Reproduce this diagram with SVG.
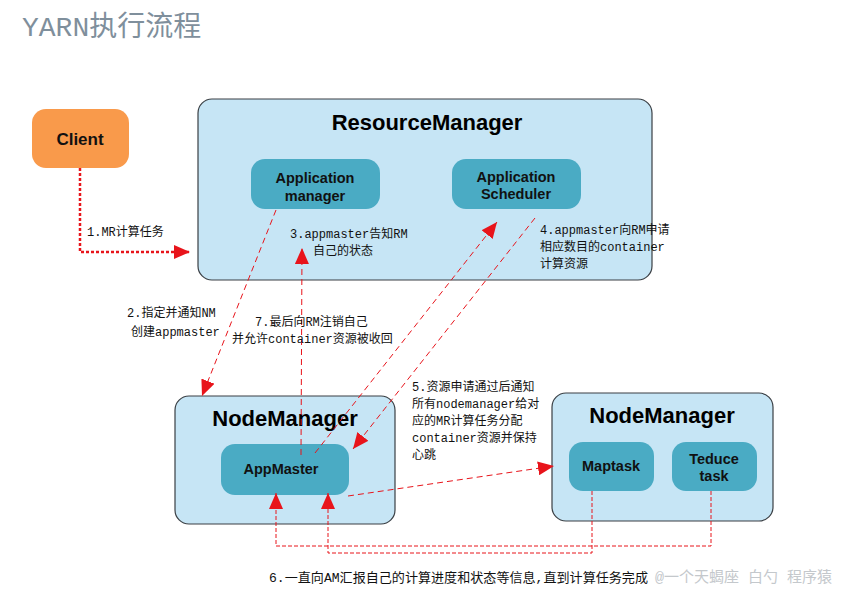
<svg xmlns="http://www.w3.org/2000/svg" width="844" height="593" viewBox="0 0 844 593">
<defs>
<style>
.bg{fill:#ffffff}
.outer{fill:#c6e5f5;stroke:#3a3f44;stroke-width:1.2}
.inner{fill:#4aabc4}
.client{fill:#f99a4b}
.big{font-family:"Liberation Sans",Arial,sans-serif;font-weight:bold;font-size:22px;fill:#000;text-anchor:middle}
.mid{font-family:"Liberation Sans",Arial,sans-serif;font-weight:bold;font-size:14.5px;fill:#111;text-anchor:middle}
.lbl{font-family:"Liberation Mono","Noto Sans CJK SC",monospace;font-size:12px;fill:#111}
.title{font-family:"Liberation Mono","Noto Sans CJK SC",monospace;font-size:28px;fill:#7f8f9c}
.dash{fill:none;stroke:#e8141b;stroke-width:1;stroke-dasharray:6 4}
.dash2{fill:none;stroke:#e8141b;stroke-width:1;stroke-dasharray:4 2}
.dot{fill:none;stroke:#e8141b;stroke-width:2.5;stroke-dasharray:3 2}
</style>
<marker id="ah" markerUnits="userSpaceOnUse" markerWidth="16" markerHeight="14" refX="16" refY="7" orient="auto">
<path d="M0,0 L16,7 L0,14 z" fill="#e8141b"/>
</marker>
</defs>
<rect class="bg" x="0" y="0" width="844" height="593"/>
<text class="title" x="22" y="36">YARN执行流程</text>

<g id="client">
<rect class="client" x="32" y="109" width="97" height="59" rx="14"/>
<text class="mid" x="80" y="145" style="font-size:17px">Client</text>
</g>

<g id="resourcemanager">
<rect class="outer" x="198" y="99" width="454" height="181" rx="14"/>
<text class="big" x="427" y="130">ResourceManager</text>
</g>
<g id="appmanager">
<rect class="inner" x="251" y="159" width="129" height="50" rx="14"/>
<text class="mid" x="315" y="183">Application</text>
<text class="mid" x="315" y="201">manager</text>
</g>
<g id="appscheduler">
<rect class="inner" x="452" y="159" width="129" height="50" rx="14"/>
<text class="mid" x="516" y="182">Application</text>
<text class="mid" x="516" y="199">Scheduler</text>
</g>

<g id="nodemanager1">
<rect class="outer" x="175" y="396" width="220" height="128" rx="14"/>
<text class="big" x="285" y="426">NodeManager</text>
</g>
<g id="appmaster">
<rect class="inner" x="221" y="444" width="128" height="51" rx="14"/>
<text class="mid" x="281" y="474">AppMaster</text>
</g>

<g id="nodemanager2">
<rect class="outer" x="552" y="393" width="221" height="128" rx="14"/>
<text class="big" x="662" y="423">NodeManager</text>
</g>
<g id="maptask">
<rect class="inner" x="569" y="442" width="85" height="49" rx="14"/>
<text class="mid" x="611" y="471">Maptask</text>
</g>
<g id="teducetask">
<rect class="inner" x="672" y="442" width="85" height="49" rx="14"/>
<text class="mid" x="714" y="464">Teduce</text>
<text class="mid" x="714" y="481">task</text>
</g>

<g id="connectors">
<path class="dot" d="M80,168 L80,252 L190,252" marker-end="url(#ah)"/>
<path class="dash" d="M276,210 L202,396" marker-end="url(#ah)"/>
<path class="dash" d="M301,455 L302,248" marker-end="url(#ah)"/>
<path class="dash" d="M315,453 L497,222" marker-end="url(#ah)"/>
<path class="dash" d="M535,218 L353,449" marker-end="url(#ah)"/>
<path class="dash" d="M348,496 L554,466" marker-end="url(#ah)"/>
<path class="dash2" d="M711,491 L711,546 L276,546 L276,493" marker-end="url(#ah)"/>
<path class="dash2" d="M592,491 L592,553 L328,553 L328,493" marker-end="url(#ah)"/>
</g>

<g id="labels">
<text class="lbl" x="87" y="236">1.MR计算任务</text>
<text class="lbl" x="127" y="317">2.指定并通知NM</text>
<text class="lbl" x="131" y="336">创建appmaster</text>
<text class="lbl" x="290" y="238">3.appmaster告知RM</text>
<text class="lbl" x="313" y="255">自己的状态</text>
<text class="lbl" x="540" y="234">4.appmaster向RM申请</text>
<text class="lbl" x="540" y="251">相应数目的container</text>
<text class="lbl" x="540" y="268">计算资源</text>
<text class="lbl" x="412" y="391">5.资源申请通过后通知</text>
<text class="lbl" x="412" y="408">所有nodemanager给对</text>
<text class="lbl" x="412" y="425">应的MR计算任务分配</text>
<text class="lbl" x="412" y="442">container资源并保持</text>
<text class="lbl" x="412" y="459">心跳</text>
<text class="lbl" x="255" y="326">7.最后向RM注销自己</text>
<text class="lbl" x="232" y="343">并允许container资源被收回</text>
<text class="lbl" x="269" y="582" style="font-size:13px" textLength="379" lengthAdjust="spacingAndGlyphs">6.一直向AM汇报自己的计算进度和状态等信息,直到计算任务完成</text>
<text class="lbl" x="655" y="582" style="font-size:15px;fill:#c4c8cc">@一个天蝎座 白勺 程序猿</text>
</g>
</svg>
